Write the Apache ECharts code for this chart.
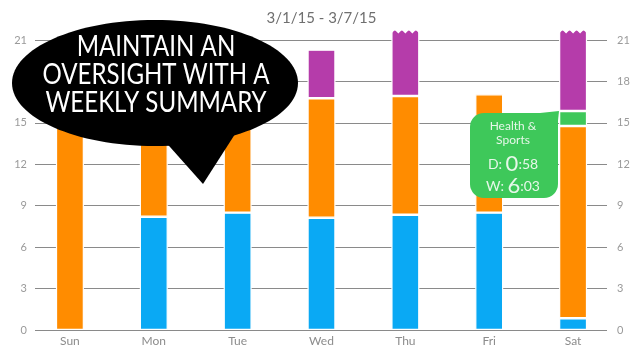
<!DOCTYPE html>
<html><head><meta charset="utf-8">
<script src="https://cdn.jsdelivr.net/npm/echarts@6/dist/echarts.min.js"></script>
<style>html,body{margin:0;padding:0;background:#fff}#c{width:643px;height:362px}</style>
</head><body><div id="c"></div>
<script>
const days = ['Sun','Mon','Tue','Wed','Thu','Fri','Sat'];
const yTicks = [0,3,6,9,12,15,18,21];
const blue   = [null, 8.2, 8.5, 8.13, 8.35, 8.5, 0.85];
const orange = [15.8, 6.6, 7.7, 8.65, 8.59, 8.57, 13.92];
const green  = [null, null, null, null, null, null, 1.09];
const purple = [null, null, null, 3.52, 6.0, null, 6.0];
const title = '3/1/15 - 3/7/15';
const bubbleLines = ['MAINTAIN AN', 'OVERSIGHT WITH A', 'WEEKLY SUMMARY'];
const tipCategory = ['Health &', 'Sports'];
const tipDay = ['0', ':58'];
const tipWeek = ['6', ':03'];

const FONT = 'Lato';
const unitPx = 290 / 21;
const barMax = 300 / unitPx;
const chart = echarts.init(document.getElementById('c'), null, {renderer:'canvas'});
const barStyle = c => ({color: c, borderColor: '#fff', borderWidth: 1.2});
const mk = (name, data, c) => ({name, type:'bar', stack:'t', data, xAxisIndex:1, yAxisIndex:2,
  barWidth: 28, itemStyle: barStyle(c), animation:false, clip:true});

chart.setOption({
  animation:false,
  title:{text:title, left:'center', top:6, textStyle:{color:'#6f6f6f', fontSize:15, fontWeight:'normal', fontFamily:FONT}},
  grid:[{left:35, right:36, top:40, bottom:32},{left:28, right:28, top:30, bottom:32}],
  xAxis:[
    {type:'category', gridIndex:0, data:days, show:false},
    {type:'category', gridIndex:1, data:days, axisLine:{show:false}, axisTick:{show:false},
     axisLabel:{color:'#8c8c8c', fontSize:12, fontFamily:FONT, margin:5}}
  ],
  yAxis:[
    {type:'value', gridIndex:0, position:'left', min:yTicks[0], max:yTicks[yTicks.length-1], interval:3,
     axisLine:{show:false}, axisTick:{show:false},
     axisLabel:{color:'#9a9a9a', fontSize:11, fontFamily:FONT, margin:8},
     splitLine:{lineStyle:{color:'#8a8a8a', width:1}}},
    {type:'value', gridIndex:0, position:'right', min:yTicks[0], max:yTicks[yTicks.length-1], interval:3,
     axisLine:{show:false}, axisTick:{show:false},
     axisLabel:{color:'#9a9a9a', fontSize:11, fontFamily:FONT, margin:10},
     splitLine:{show:false}},
    {type:'value', gridIndex:1, min:0, max:barMax, show:false, splitLine:{show:false}}
  ],
  series:[
    mk('blue', blue, '#0aa9f4'),
    mk('orange', orange, '#ff8c00'),
    mk('green', green, '#3ec85a'),
    mk('purple', purple, '#b53caa')
  ]
});

// decorations: zigzag on capped bars, speech bubble, tooltip
const gfx = [];
days.forEach((d,i)=>{
  const tot = (blue[i]||0)+(orange[i]||0)+(green[i]||0)+(purple[i]||0);
  if (tot > barMax) {
    const p = chart.convertToPixel({xAxisIndex:1, yAxisIndex:2}, [d, barMax]);
    const x0 = p[0]-14, y0 = p[1];
    const pts = [[x0-1,y0-1]];
    const n = 4, w = 28/n;
    for (let k=0;k<=n;k++){ pts.push([x0+k*w, y0+3.5]); if(k<n) pts.push([x0+k*w+w/2, y0]); }
    pts.push([x0+29,y0-1]);
    gfx.push({type:'polygon', shape:{points:pts}, style:{fill:'#fff'}, z:100});
  }
});
gfx.push({type:'ellipse', shape:{cx:155, cy:83, rx:143, ry:63}, style:{fill:'#000'}, z:200});
gfx.push({type:'polygon', shape:{points:[[162,138],[237,131],[203,184]]}, style:{fill:'#000'}, z:200});
bubbleLines.forEach((t,k)=>{
  gfx.push({type:'text', x:156, y:47+k*28, scaleX:0.86, z:201, style:{text:t, fill:'#fff', font:'28px '+FONT, align:'center', verticalAlign:'middle'}});
});
// green tooltip
gfx.push({type:'rect', shape:{x:470, y:113, width:88, height:85, r:[14,2,14,14]}, style:{fill:'#3ec85a'}, z:200});
gfx.push({type:'polygon', shape:{points:[[540,113],[559,111],[557,130]]}, style:{fill:'#3ec85a'}, z:200});
gfx.push({type:'text', x:513, y:126, z:201, style:{text:tipCategory[0], fill:'#e6f7e9', font:'12px '+FONT, align:'center', verticalAlign:'middle'}});
gfx.push({type:'text', x:513, y:140, z:201, style:{text:tipCategory[1], fill:'#e6f7e9', font:'12px '+FONT, align:'center', verticalAlign:'middle'}});
gfx.push({type:'text', x:513, y:164, z:201, style:{
  text:'{s|D: }{b|'+tipDay[0]+'}{s|'+tipDay[1]+'}', align:'center', verticalAlign:'middle',
  rich:{s:{fill:'#e6f7e9', fontSize:14, fontFamily:FONT}, b:{fill:'#e6f7e9', fontSize:22, fontFamily:FONT}}}});
gfx.push({type:'text', x:513, y:186, z:201, style:{
  text:'{s|W: }{b|'+tipWeek[0]+'}{s|'+tipWeek[1]+'}', align:'center', verticalAlign:'middle',
  rich:{s:{fill:'#e6f7e9', fontSize:14, fontFamily:FONT}, b:{fill:'#e6f7e9', fontSize:22, fontFamily:FONT}}}});
chart.setOption({graphic:gfx});
</script></body></html>
